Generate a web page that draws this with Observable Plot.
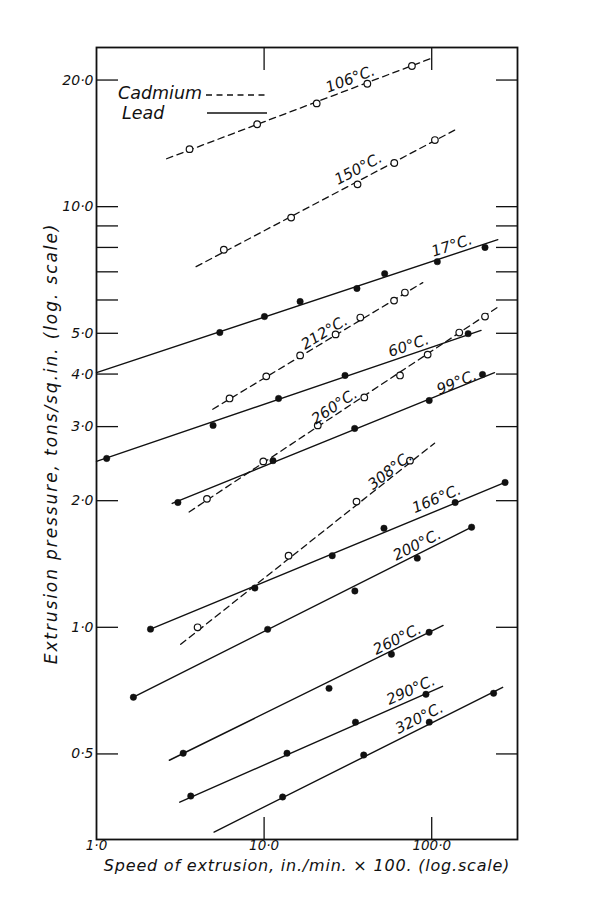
<!DOCTYPE html>
<html><head><meta charset="utf-8">
<script src="https://cdn.jsdelivr.net/npm/d3@7"></script>
<script src="https://cdn.jsdelivr.net/npm/@observablehq/plot@0.6"></script>
<style>
body{margin:0;background:#fff;}
#chart{position:relative;width:600px;height:911px;}
svg text{font-style:italic;}
</style></head><body><div id="chart"></div>
<script>
// ---- axis set-up values ----
const xDomain = [1, 325];
const yDomain = [0.313, 23.9];
const yTicks = [0.5, 1, 2, 3, 4, 5, 6, 7, 8, 9, 10, 20];
const xTickLabels = [1, 10, 100];
const xTicks = [10, 100];
const xTitle = "Speed of extrusion, in./min. × 100. (log.scale)";
const yTitle = "Extrusion pressure, tons/sq.in. (log. scale)";
const legendNames = ["Cadmium", "Lead"];

// ---- series (temperature curves) ----
const seriesNames = ["106°C.", "150°C.", "212°C.", "260°C.", "308°C.",
                     "17°C.", "60°C.", "99°C.", "166°C.", "200°C.", "260°C.", "290°C.", "320°C."];
const seriesMetal = ["Cadmium", "Cadmium", "Cadmium", "Cadmium", "Cadmium",
                     "Lead", "Lead", "Lead", "Lead", "Lead", "Lead", "Lead", "Lead"];
const pointsX = [
  [3.59, 9.09, 20.6, 41.3, 76.2],
  [5.75, 14.5, 36.1, 59.8, 104.5],
  [6.22, 10.3, 16.4, 26.7, 37.5, 59.6, 69.2],
  [4.56, 9.89, 20.9, 39.6, 64.7, 94.6, 146, 208],
  [4.01, 14.0, 35.6, 74.2],
  [5.44, 10.05, 16.4, 35.8, 52.4, 108, 208],
  [1.15, 4.96, 12.2, 30.4, 165],
  [3.06, 11.3, 34.7, 96.6, 201],
  [2.10, 8.81, 25.5, 51.9, 138, 274],
  [1.66, 10.5, 34.8, 82.0, 173],
  [3.29, 24.4, 57.5, 96.5],
  [3.65, 13.7, 35.1, 92.4],
  [12.9, 39.3, 96.7, 234]
];
const pointsY = [
  [13.7, 15.7, 17.6, 19.6, 21.6],
  [7.90, 9.42, 11.3, 12.7, 14.4],
  [3.50, 3.95, 4.43, 4.97, 5.45, 5.98, 6.25],
  [2.02, 2.48, 3.02, 3.52, 3.97, 4.45, 5.02, 5.48],
  [1.0, 1.48, 1.99, 2.49],
  [5.02, 5.48, 5.95, 6.39, 6.93, 7.40, 8.0],
  [2.52, 3.02, 3.50, 3.97, 4.99],
  [1.98, 2.49, 2.97, 3.46, 3.99],
  [0.99, 1.24, 1.48, 1.72, 1.98, 2.21],
  [0.682, 0.989, 1.22, 1.46, 1.73],
  [0.502, 0.716, 0.863, 0.973],
  [0.397, 0.502, 0.595, 0.693],
  [0.395, 0.497, 0.595, 0.697]
];
// fitted straight lines (start and end)
const lineFromX = [2.62, 3.93, 4.94, 3.57, 3.18, 1, 1, 2.83, 2.10, 1.66, 2.72, 3.14, 5.03];
const lineFromY = [13.0, 7.20, 3.30, 1.88, 0.911, 4.03, 2.48, 1.97, 0.99, 0.682, 0.483, 0.384, 0.326];
const lineToX = [98.8, 137, 88.4, 245, 104, 248, 197, 237, 274, 173, 117, 116, 265];
const lineToY = [22.5, 15.2, 6.60, 5.75, 2.74, 8.35, 5.08, 4.03, 2.21, 1.73, 1.01, 0.724, 0.72];
// where each temperature label sits
const labelX = [32.7, 36.5, 22.9, 26.3, 56.5, 132, 72.8, 141, 107, 81.8, 62.3, 75.1, 84.3];
const labelY = [20.1, 12.3, 5.02, 3.35, 2.36, 8.08, 4.67, 3.82, 2.02, 1.57, 0.936, 0.709, 0.608];

// ---- build tables ----
const W = 600, H = 911, mL = 96, mR = 83, mT = 47, mB = 72;
const points = [], lines = [], labels = [];
const sx = Plot.scale({x: {type: "log", domain: xDomain, range: [mL, W - mR]}});
const sy = Plot.scale({y: {type: "log", domain: yDomain, range: [H - mB, mT]}});
seriesNames.forEach((name, i) => {
  const metal = seriesMetal[i];
  pointsX[i].forEach((x, j) => points.push({id: i, metal, x, y: pointsY[i][j]}));
  lines.push({id: i, metal, x: lineFromX[i], y: lineFromY[i]});
  lines.push({id: i, metal, x: lineToX[i], y: lineToY[i]});
  const ang = Math.atan2(sy.apply(lineToY[i]) - sy.apply(lineFromY[i]),
                         sx.apply(lineToX[i]) - sx.apply(lineFromX[i])) * 180 / Math.PI;
  labels.push({text: name, x: labelX[i], y: labelY[i], rotate: ang});
});
const fmt = d => d.toFixed(1).replace(".", "·");

const chart = Plot.plot({
  width: W, height: H,
  marginLeft: mL, marginRight: mR, marginTop: mT, marginBottom: mB,
  style: {fontFamily: "DejaVu Sans", fontSize: "14px", color: "#111", background: "#fff"},
  x: {type: "log", domain: xDomain},
  y: {type: "log", domain: yDomain},
  marks: [
    Plot.axisY({ticks: yTicks, anchor: "left", tickSize: -22, tickPadding: 25, tickFormat: fmt, label: null, fontSize: 14, strokeWidth: 1.3}),
    Plot.axisY({ticks: yTicks, anchor: "right", tickSize: -22, fill: "none", label: null, strokeWidth: 1.3}),
    Plot.axisX({ticks: xTickLabels, anchor: "bottom", tickSize: 0, tickPadding: 1, tickFormat: fmt, label: null, fontSize: 13.5}),
    Plot.axisX({ticks: xTicks, anchor: "bottom", tickSize: -22, fill: "none", label: null, strokeWidth: 1.3}),
    Plot.axisX({ticks: xTicks, anchor: "top", tickSize: -22, fill: "none", label: null, strokeWidth: 1.3}),
    Plot.frame({stroke: "#111", strokeWidth: 1.8}),
    Plot.line(lines.filter(d => d.metal === "Cadmium"), {x: "x", y: "y", z: "id", stroke: "#111", strokeWidth: 1.3, strokeDasharray: "6.5,4.5"}),
    Plot.line(lines.filter(d => d.metal === "Lead"), {x: "x", y: "y", z: "id", stroke: "#111", strokeWidth: 1.4}),
    Plot.dot(points.filter(d => d.metal === "Cadmium"), {x: "x", y: "y", r: 3.3, fill: "white", stroke: "#111", strokeWidth: 1.2}),
    Plot.dot(points.filter(d => d.metal === "Lead"), {x: "x", y: "y", r: 3.2, fill: "#111", stroke: "#111", strokeWidth: 0.5}),
    Plot.text(labels, {x: "x", y: "y", text: "text", rotate: "rotate", fontSize: 15, fill: "#111"}),
    Plot.text([xTitle], {frameAnchor: "bottom", textAnchor: "middle", dy: 31, fontSize: 16, fill: "#111"}),
    Plot.text([yTitle], {frameAnchor: "left", textAnchor: "middle", dx: -45, rotate: -90, fontSize: 17, fill: "#111"})
  ]
});
document.getElementById("chart").appendChild(chart);

const svg = d3.select(chart);
// hand-lettered titles are widely spaced
svg.selectAll("text").filter(function() { return this.textContent === xTitle; }).style("letter-spacing", "0.8px");
svg.selectAll("text").filter(function() { return this.textContent === yTitle; }).style("letter-spacing", "1.9px");

// legend inside the frame (top-left)
const lg = svg.append("g").attr("fill", "#111").attr("text-anchor", "start")
  .style("font-family", "DejaVu Sans").style("font-style", "italic");
lg.append("text").attr("x", 118).attr("y", 99).attr("font-size", 17.5).text(legendNames[0]);
lg.append("text").attr("x", 122).attr("y", 119).attr("font-size", 17.5).text(legendNames[1]);
lg.append("line").attr("x1", 206).attr("x2", 267).attr("y1", 95).attr("y2", 95)
  .attr("stroke", "#111").attr("stroke-width", 1.4).attr("stroke-dasharray", "6,4.5");
lg.append("line").attr("x1", 207).attr("x2", 267).attr("y1", 113).attr("y2", 113)
  .attr("stroke", "#111").attr("stroke-width", 1.5);
</script>
</body></html>
